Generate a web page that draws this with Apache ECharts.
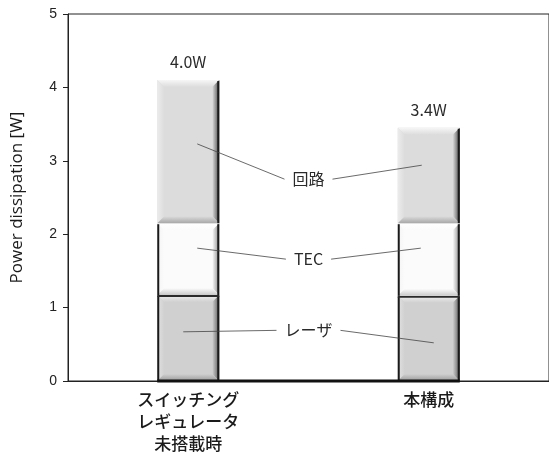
<!DOCTYPE html>
<html>
<head>
<meta charset="utf-8">
<script src="https://cdn.jsdelivr.net/npm/echarts@6/dist/echarts.min.js"></script>
<style>
html,body{margin:0;padding:0;background:#fff;}
#c{width:549px;height:459px;}
</style>
</head>
<body>
<div id="c"></div>
<script>
// ---- data ----
const categories = ['スイッチング\nレギュレータ\n未搭載時', '本構成'];
const laser = [1.17, 1.16];
const tec = [0.98, 0.99];
const circuit = [1.95, 1.30];
const totalLabels = ['4.0W', '3.4W'];
const segmentNames = ['レーザ', 'TEC', '回路'];
const yTicks = [0, 1, 2, 3, 4, 5];
// annotation: label value, pointer value in bar 0, pointer value in bar 1
const annoNames = ['回路', 'TEC', 'レーザ'];
const annoLabelValue = [2.75, 1.66, 0.69];
const annoBar0Value = [3.23, 1.81, 0.67];
const annoBar1Value = [2.94, 1.81, 0.52];
const annoBar0Dx = [9, 9, -5];
const annoBar1Dx = [-7, -8, 5];

const BAR_W = 62;
const styles = [
  {base: '#d0d0d0', top: '#eeeeee', left: '#e2e2e2', right: '#5a5a5a', bottom: '#9a9a9a'},
  {base: '#fbfbfb', top: '#ffffff', left: '#f4f4f4', right: '#8a8a8a', bottom: '#c8c8c8'},
  {base: '#dcdcdc', top: '#f6f6f6', left: '#ececec', right: '#4a4a4a', bottom: '#a8a8a8'}
];

function buildData(segIndex) {
  const out = [];
  for (let i = 0; i < categories.length; i++) {
    const vals = [laser[i], tec[i], circuit[i]];
    let base = 0;
    for (let k = 0; k < segIndex; k++) base += vals[k];
    out.push([i, base, base + vals[segIndex]]);
  }
  return out;
}

function makeRender(segIndex) {
  const st = styles[segIndex];
  return function (params, api) {
    const ci = api.value(0);
    const pTop = api.coord([ci, api.value(2)]);
    const pBot = api.coord([ci, api.value(1)]);
    const cx = pTop[0];
    const x0 = cx - BAR_W / 2, x1 = cx + BAR_W / 2;
    const y0 = pTop[1], y1 = pBot[1];
    const b = 7;
    const children = [];
    children.push({type: 'rect', shape: {x: x0, y: y0, width: x1 - x0, height: y1 - y0},
      style: {fill: st.base}});
    children.push({type: 'polygon', shape: {points: [[x0, y0], [x1, y0], [x1 - b, y0 + b], [x0 + b, y0 + b]]},
      style: {fill: new echarts.graphic.LinearGradient(0, 0, 0, 1, [{offset: 0, color: st.top}, {offset: 1, color: st.base}])}});
    children.push({type: 'polygon', shape: {points: [[x0, y0], [x0 + b, y0 + b], [x0 + b, y1 - b], [x0, y1]]},
      style: {fill: new echarts.graphic.LinearGradient(0, 0, 1, 0, [{offset: 0, color: st.left}, {offset: 1, color: st.base}])}});
    children.push({type: 'polygon', shape: {points: [[x1, y0], [x1, y1], [x1 - b, y1 - b], [x1 - b, y0 + b]]},
      style: {fill: new echarts.graphic.LinearGradient(0, 0, 1, 0, [{offset: 0, color: st.base}, {offset: 1, color: st.right}])}});
    children.push({type: 'polygon', shape: {points: [[x0, y1], [x0 + b, y1 - b], [x1 - b, y1 - b], [x1, y1]]},
      style: {fill: new echarts.graphic.LinearGradient(0, 0, 0, 1, [{offset: 0, color: st.base}, {offset: 1, color: st.bottom}])}});
    children.push({type: 'line', shape: {x1: x1 - 1, y1: y0 + 1, x2: x1 - 1, y2: y1}, style: {stroke: '#1a1a1a', lineWidth: 2}});
    if (segIndex < 2) {
      children.push({type: 'line', shape: {x1: x0 + 1, y1: y0 + 1, x2: x0 + 1, y2: y1}, style: {stroke: '#1a1a1a', lineWidth: 2}});
    }
    if (segIndex === 0) {
      children.push({type: 'line', shape: {x1: x0, y1: y0 + 1, x2: x1, y2: y0 + 1}, style: {stroke: '#2a2a2a', lineWidth: 2}});
    }
    if (segIndex === 2) {
      children.push({type: 'text', style: {text: totalLabels[ci], x: cx, y: y0 - 18, align: 'center', verticalAlign: 'middle',
        fill: '#2a2a2a', font: '16px "Noto Sans CJK JP", "Noto Sans", sans-serif'}});
    }
    return {type: 'group', children: children};
  };
}

const chart = echarts.init(document.getElementById('c'), null, {renderer: 'canvas'});
const series = [0, 1, 2].map(k => ({
  type: 'custom',
  name: segmentNames[k],
  renderItem: makeRender(k),
  data: buildData(k),
  encode: {x: 0, y: [1, 2]},
  animation: false
}));

chart.setOption({
  animation: false,
  grid: {left: 68, right: -2, top: 14, bottom: 78, show: true, borderColor: '#222', borderWidth: 1},
  xAxis: {
    type: 'category', data: categories,
    axisLine: {lineStyle: {color: '#222'}},
    axisTick: {show: false},
    axisLabel: {interval: 0, margin: 8, fontSize: 17, lineHeight: 22, color: '#1a1a1a', fontWeight: 500,
      fontFamily: '"Noto Sans CJK JP", sans-serif'}
  },
  yAxis: {
    type: 'value', min: yTicks[0], max: yTicks[yTicks.length - 1], interval: 1,
    name: 'Power dissipation [W]', nameLocation: 'middle', nameGap: 42,
    nameTextStyle: {fontSize: 17, color: '#1a1a1a', fontFamily: '"Open Sans", sans-serif'},
    axisLine: {show: true, lineStyle: {color: '#222'}},
    axisTick: {show: true, length: 5, lineStyle: {color: '#222'}},
    axisLabel: {fontSize: 14, color: '#222', margin: 11, fontFamily: '"Liberation Sans", Arial, sans-serif'},
    splitLine: {show: false}
  },
  series: series
});

const ctx = document.createElement('canvas').getContext('2d');
const annoFont = '16px "Noto Sans CJK JP", "Noto Sans", sans-serif';
ctx.font = annoFont;
const c0 = chart.convertToPixel({xAxisIndex: 0, yAxisIndex: 0}, [0, 0]);
const c1 = chart.convertToPixel({xAxisIndex: 0, yAxisIndex: 0}, [1, 0]);
const midX = (c0[0] + c1[0]) / 2;
const graphics = [];
graphics.push({type: 'line', shape: {x1: c0[0] - BAR_W / 2, y1: c0[1], x2: c1[0] + BAR_W / 2, y2: c0[1]},
  style: {stroke: '#111', lineWidth: 3}, z: 100});
for (let i = 0; i < annoNames.length; i++) {
  const ly = chart.convertToPixel({yAxisIndex: 0}, annoLabelValue[i]);
  const p0y = chart.convertToPixel({yAxisIndex: 0}, annoBar0Value[i]);
  const p1y = chart.convertToPixel({yAxisIndex: 0}, annoBar1Value[i]);
  const hw = ctx.measureText(annoNames[i]).width / 2;
  graphics.push({type: 'text', style: {text: annoNames[i], x: midX, y: ly, align: 'center', verticalAlign: 'middle',
    fill: '#2a2a2a', font: annoFont}, z: 100});
  graphics.push({type: 'line', shape: {x1: midX - hw - 8, y1: ly, x2: c0[0] + annoBar0Dx[i], y2: p0y},
    style: {stroke: '#444', lineWidth: 0.8}, z: 100});
  graphics.push({type: 'line', shape: {x1: midX + hw + 8, y1: ly, x2: c1[0] + annoBar1Dx[i], y2: p1y},
    style: {stroke: '#444', lineWidth: 0.8}, z: 100});
}
chart.setOption({graphic: graphics});
</script>
</body>
</html>
